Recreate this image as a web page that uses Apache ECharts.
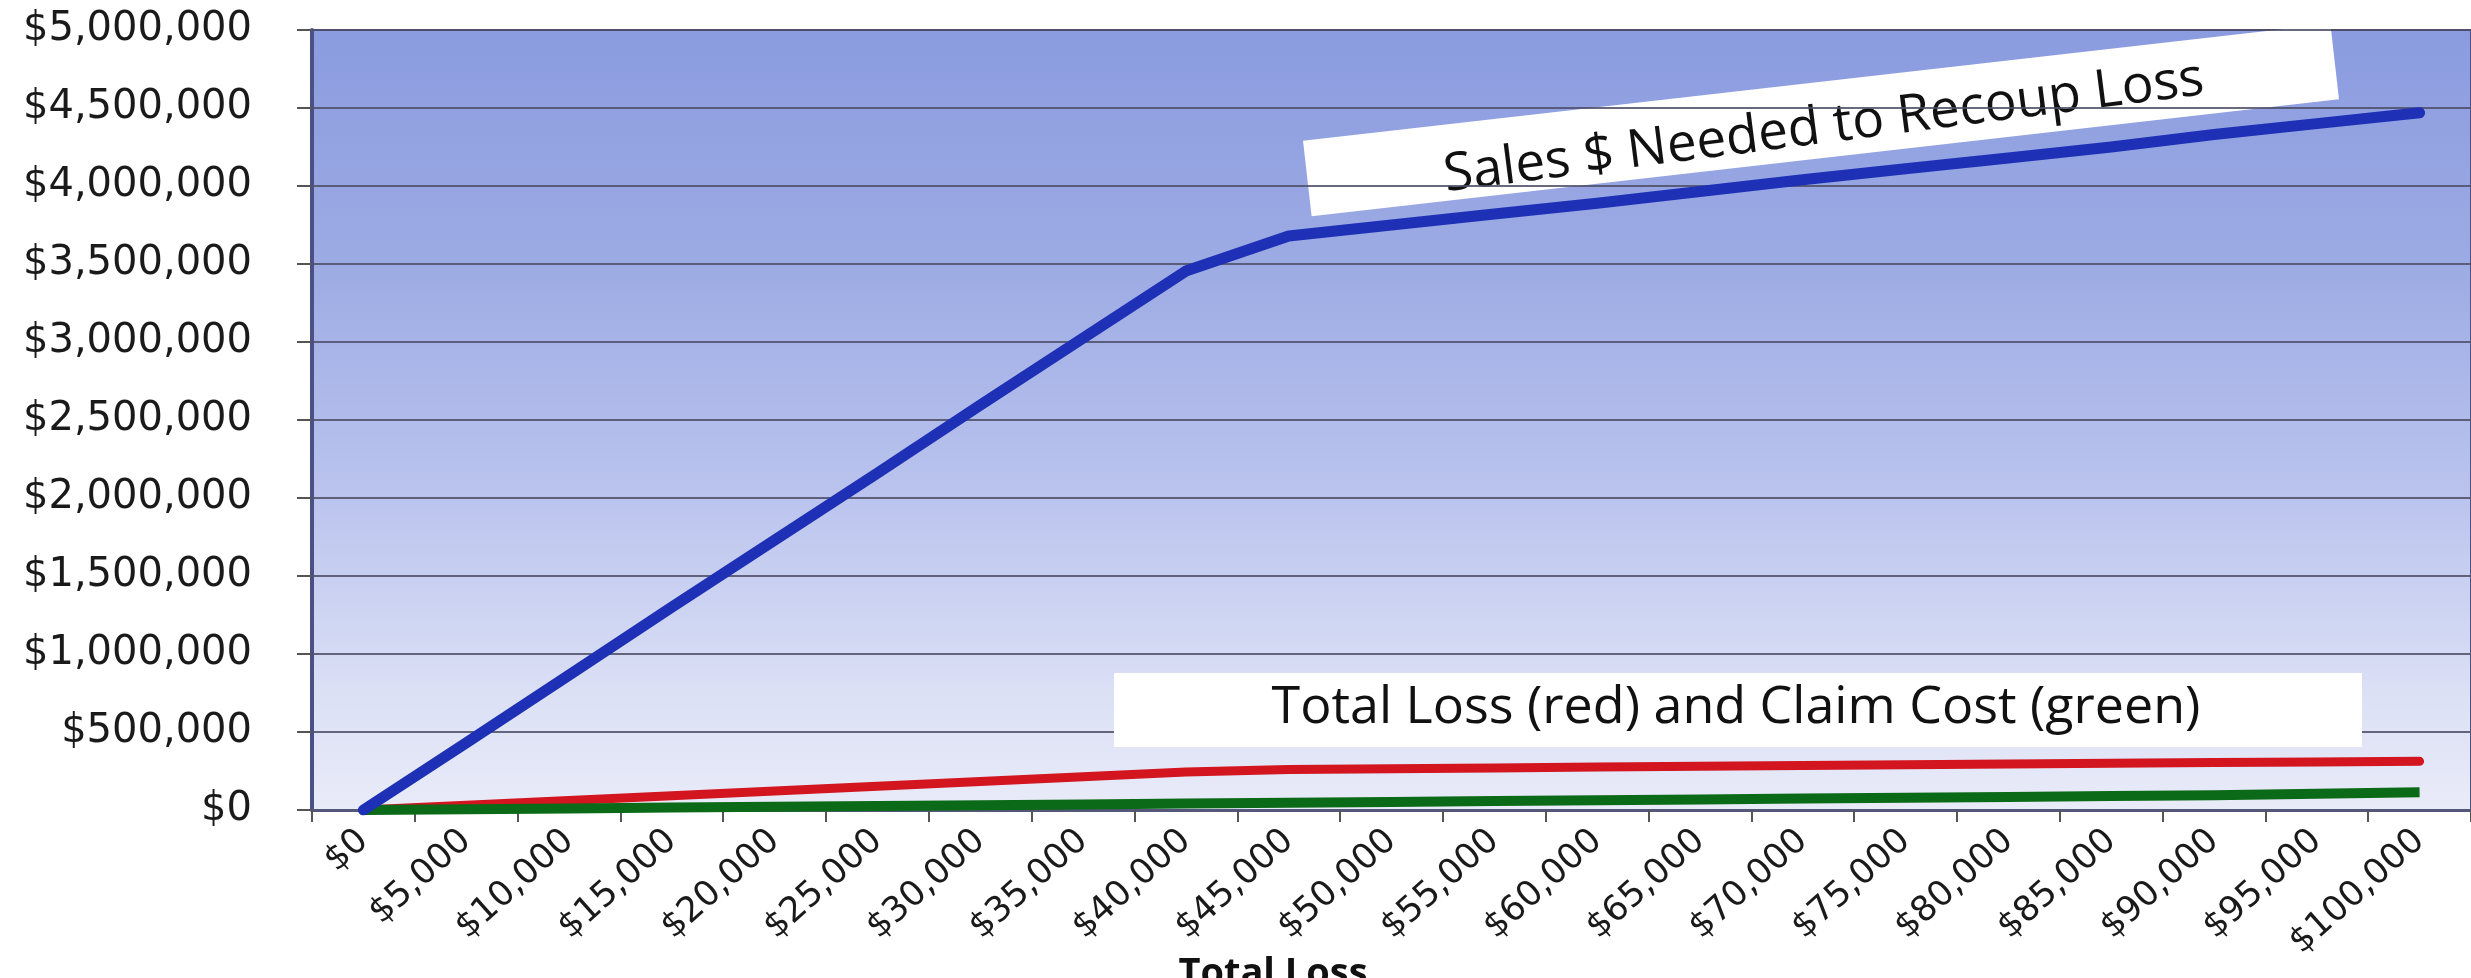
<!DOCTYPE html>
<html>
<head>
<meta charset="utf-8">
<script src="https://cdn.jsdelivr.net/npm/echarts@6/dist/echarts.min.js"></script>
<style>
html,body{margin:0;padding:0;background:#fff;}
#chart{width:2471px;height:978px;}
</style>
</head>
<body>
<div id="chart"></div>
<script>
// ---- data ----
const categories = ['$0','$5,000','$10,000','$15,000','$20,000','$25,000','$30,000','$35,000','$40,000','$45,000','$50,000','$55,000','$60,000','$65,000','$70,000','$75,000','$80,000','$85,000','$90,000','$95,000','$100,000'];
const salesNeeded = [0, 430000, 865000, 1300000, 1730000, 2160000, 2595000, 3025000, 3455000, 3680000, 3750000, 3820000, 3890000, 3965000, 4040000, 4110000, 4180000, 4250000, 4330000, 4400000, 4470000];
const totalLoss = [0, 30500, 61000, 91500, 122000, 152500, 183000, 213500, 244000, 260000, 265000, 270000, 275000, 280000, 285000, 290000, 295000, 299000, 304000, 308000, 312000];
const claimCost = [0, 5000, 10000, 16000, 21000, 26000, 31000, 36000, 42000, 47000, 52000, 57000, 62000, 68000, 73000, 78000, 84000, 89000, 95000, 104000, 113000];
const yMin = 0, yMax = 5000000, yStep = 500000;
const xAxisTitle = 'Total Loss';
const salesNote = 'Sales $ Needed to Recoup Loss';
const lossNote = 'Total Loss (red) and Claim Cost (green)';

const chart = echarts.init(document.getElementById('chart'));
const money = v => '$' + Number(v).toLocaleString('en-US');

chart.setOption({
  animation: false,
  backgroundColor: '#ffffff',
  grid: {
    left: 312, top: 30, width: 2172, height: 780,
    show: true,
    backgroundColor: new echarts.graphic.LinearGradient(0, 0, 0, 1, [
      {offset: 0, color: '#8A9BDF'},
      {offset: 0.3, color: '#9DABE4'},
      {offset: 0.6, color: '#BBC4EE'},
      {offset: 0.85, color: '#DBE0F5'},
      {offset: 1, color: '#E9EBF8'}
    ]),
    borderColor: '#4c5185',
    borderWidth: 2
  },
  xAxis: {
    type: 'category',
    data: categories,
    boundaryGap: true,
    axisLine: {show: true, lineStyle: {color: '#55577a', width: 3}},
    axisTick: {show: true, length: 12, inside: false, lineStyle: {color: '#555', width: 2}},
    axisLabel: {
      interval: 0, rotate: 42, margin: 26,
      fontFamily: 'DejaVu Sans', fontSize: 35, color: '#1a1a1a'
    },
    splitLine: {show: false}
  },
  yAxis: {
    type: 'value',
    min: yMin, max: yMax, interval: yStep,
    axisLine: {show: true, lineStyle: {color: '#4c5185', width: 4}},
    axisTick: {show: true, length: 15, lineStyle: {color: '#555', width: 2}},
    axisLabel: {
      margin: 60, formatter: money,
      fontFamily: 'DejaVu Sans', fontSize: 40, color: '#1a1a1a'
    },
    splitLine: {show: true, lineStyle: {color: '#4e4f66', width: 2, opacity: 0.85}}
  },
  series: [
    {
      name: 'Total Loss', type: 'line', data: totalLoss, symbol: 'none', z: 3,
      lineStyle: {color: '#d2151f', width: 9, cap: 'round', join: 'round'}
    },
    {
      name: 'Claim Cost', type: 'line', data: claimCost, symbol: 'none', z: 4,
      lineStyle: {color: '#0b6a17', width: 10, cap: 'butt', join: 'round'}
    },
    {
      name: 'Sales $ Needed to Recoup Loss', type: 'line', data: salesNeeded, symbol: 'none', z: 5,
      lineStyle: {color: '#1d30b6', width: 11, cap: 'round', join: 'round'}
    }
  ],
  graphic: [
    {
      type: 'group', x: 1821, y: 120, rotation: 6.5 * Math.PI / 180, z: 100,
      children: [
        {type: 'rect', shape: {x: -517, y: -38, width: 1034, height: 76}, style: {fill: '#ffffff'}},
        {type: 'text', x: 2, y: 8, rotation: 0.8 * Math.PI / 180, style: {text: salesNote, align: 'center', verticalAlign: 'middle',
          font: '53px "Open Sans"', fill: '#111111'}}
      ]
    },
    {type: 'rect', z: 100, shape: {x: 1114, y: 673, width: 1248, height: 74}, style: {fill: '#ffffff'}},
    {type: 'text', z: 101, x: 1736, y: 708, style: {text: lossNote, align: 'center', verticalAlign: 'middle',
      font: '52px "Open Sans"', fill: '#111111'}},
    {type: 'text', z: 101, x: 1273, y: 955, style: {text: xAxisTitle, align: 'center', verticalAlign: 'top',
      font: 'bold 38px "Open Sans"', fill: '#111111'}}
  ]
});
</script>
</body>
</html>
